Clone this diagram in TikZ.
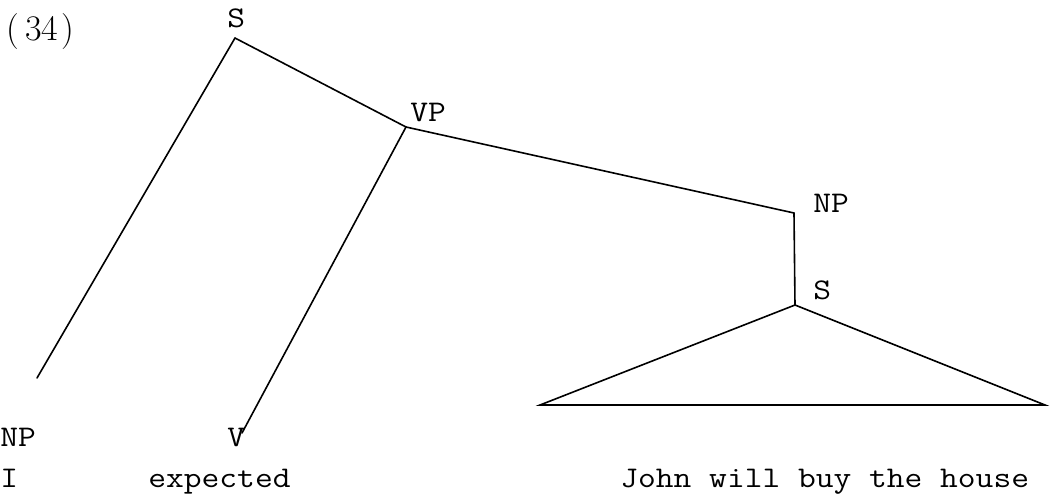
\documentclass[tikz,border=0pt]{standalone}
\usepackage{fontspec}
\setmonofont[FakeStretch=1.15]{Latin Modern Mono}
\usepackage{tikz}
\usetikzlibrary{positioning}

\begin{document}
\begin{tikzpicture}[
  x=0.5pt,y=-0.5pt,
  every node/.style={font=\ttfamily\fontsize{15}{18}\selectfont,inner sep=0pt},
  lbl/.style={anchor=base west},
  branch/.style={line width=0.8pt,line cap=round}
]
\useasboundingbox (0,0) rectangle (1051,494);
\node[lbl,font=\rmfamily\fontsize{18}{21}\selectfont] (ex) at (6,40) {(\hspace{3pt}34\hspace{1.5pt})};
% junctions
\coordinate (S) at (235,38);
\coordinate (VP) at (406,127);
\coordinate (NP) at (794,213);
\coordinate (Sb) at (795,305);
\coordinate (NPl) at (37,378);
\coordinate (V) at (242,433);
\coordinate (tl) at (540,405);
\coordinate (tr) at (1045,405);
% category labels
\node[lbl] (Slab) at (227,27) {S};
\node[lbl] (VPlab) at (410,121) {VP};
\node[lbl] (NPlab) at (813,212) {NP};
\node[lbl] (Sblab) at (813,299) {S};
\node[lbl] (NPllab) at (0,446) {NP};
\node[lbl] (Vlab) at (227,446) {V};
% words
\node[lbl] (I) at (0,487) {I};
\node[lbl] (expected) at (148,487) {expected};
\node[lbl] (john) at (620,487) {John will buy the house};
% branches
\draw[branch] (S)--(VP);
\draw[branch] (S)--(NPl);
\draw[branch] (VP)--(NP);
\draw[branch] (VP)--(V);
\draw[branch] (NP)--(Sb);
\draw[branch] (Sb)--(tl)--(tr)--cycle;
\end{tikzpicture}
\end{document}
